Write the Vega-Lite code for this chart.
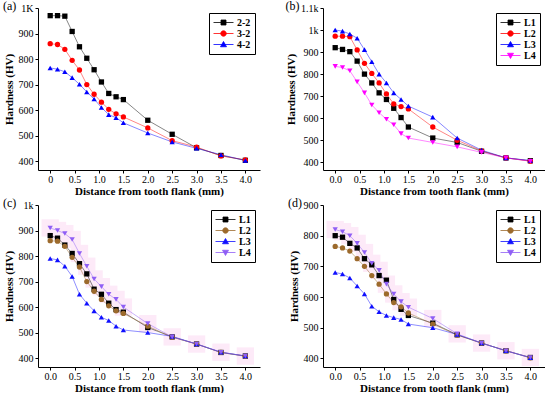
{
  "$schema": "https://vega.github.io/schema/vega-lite/v6.json",
  "padding": {"left": 3, "top": 0, "right": 0, "bottom": 0},
  "background": "white",
  "datasets": {
    "a": [
      {"x": 0, "2-2": 970, "3-2": 860, "4-2": 765},
      {"x": 0.15, "2-2": 970, "3-2": 857, "4-2": 760},
      {"x": 0.3, "2-2": 968, "3-2": 838, "4-2": 750},
      {"x": 0.45, "2-2": 908, "3-2": 795, "4-2": 727},
      {"x": 0.6, "2-2": 848, "3-2": 757, "4-2": 701},
      {"x": 0.75, "2-2": 803, "3-2": 700, "4-2": 671},
      {"x": 0.9, "2-2": 758, "3-2": 662, "4-2": 643},
      {"x": 1.05, "2-2": 710, "3-2": 631, "4-2": 610},
      {"x": 1.2, "2-2": 665, "3-2": 603, "4-2": 582},
      {"x": 1.35, "2-2": 652, "3-2": 585, "4-2": 570},
      {"x": 1.5, "2-2": 641, "3-2": 573, "4-2": 550},
      {"x": 2, "2-2": 560, "3-2": 530, "4-2": 510},
      {"x": 2.5, "2-2": 505, "3-2": 480, "4-2": 475},
      {"x": 3, "2-2": 452, "3-2": 455, "4-2": 450},
      {"x": 3.5, "2-2": 422, "3-2": 420, "4-2": 425},
      {"x": 4, "2-2": 403, "3-2": 405, "4-2": 402}
    ],
    "b": [
      {"x": 0, "L1": 920, "L2": 972, "L3": 1000, "L4": 835},
      {"x": 0.15, "L1": 912, "L2": 972, "L3": 995, "L4": 830},
      {"x": 0.3, "L1": 902, "L2": 970, "L3": 982, "L4": 815},
      {"x": 0.45, "L1": 859, "L2": 910, "L3": 963, "L4": 765},
      {"x": 0.6, "L1": 800, "L2": 849, "L3": 911, "L4": 715},
      {"x": 0.75, "L1": 760, "L2": 803, "L3": 856, "L4": 660},
      {"x": 0.9, "L1": 715, "L2": 760, "L3": 800, "L4": 625},
      {"x": 1.05, "L1": 685, "L2": 710, "L3": 760, "L4": 595},
      {"x": 1.2, "L1": 645, "L2": 665, "L3": 715, "L4": 570},
      {"x": 1.35, "L1": 603, "L2": 653, "L3": 685, "L4": 530},
      {"x": 1.5, "L1": 560, "L2": 642, "L3": 655, "L4": 510},
      {"x": 2, "L1": 510, "L2": 560, "L3": 605, "L4": 490},
      {"x": 2.5, "L1": 490, "L2": 500, "L3": 510, "L4": 470},
      {"x": 3, "L1": 450, "L2": 452, "L3": 455, "L4": 445},
      {"x": 3.5, "L1": 420, "L2": 420, "L3": 420, "L4": 420},
      {"x": 4, "L1": 407, "L2": 405, "L3": 408, "L4": 405}
    ],
    "c": [
      {"x": 0, "L1": 880, "L2": 860, "L3": 790, "L4": 910},
      {"x": 0.15, "L1": 870, "L2": 858, "L3": 785, "L4": 900},
      {"x": 0.3, "L1": 843, "L2": 838, "L3": 760, "L4": 888},
      {"x": 0.45, "L1": 810, "L2": 795, "L3": 720, "L4": 865},
      {"x": 0.6, "L1": 770, "L2": 757, "L3": 650, "L4": 810},
      {"x": 0.75, "L1": 730, "L2": 700, "L3": 615, "L4": 760},
      {"x": 0.9, "L1": 670, "L2": 662, "L3": 585, "L4": 710},
      {"x": 1.05, "L1": 650, "L2": 630, "L3": 560, "L4": 680},
      {"x": 1.2, "L1": 615, "L2": 605, "L3": 547, "L4": 650},
      {"x": 1.35, "L1": 590, "L2": 585, "L3": 525, "L4": 630},
      {"x": 1.5, "L1": 580, "L2": 575, "L3": 510, "L4": 600},
      {"x": 2, "L1": 520, "L2": 525, "L3": 500, "L4": 535},
      {"x": 2.5, "L1": 483, "L2": 482, "L3": 485, "L4": 483},
      {"x": 3, "L1": 455, "L2": 455, "L3": 455, "L4": 455},
      {"x": 3.5, "L1": 422, "L2": 422, "L3": 423, "L4": 423},
      {"x": 4, "L1": 408, "L2": 407, "L3": 408, "L4": 408}
    ],
    "d": [
      {"x": 0, "L1": 800, "L2": 765, "L3": 680, "L4": 820},
      {"x": 0.15, "L1": 795, "L2": 760, "L3": 675, "L4": 813},
      {"x": 0.3, "L1": 775, "L2": 750, "L3": 662, "L4": 800},
      {"x": 0.45, "L1": 760, "L2": 725, "L3": 636, "L4": 775},
      {"x": 0.6, "L1": 725, "L2": 700, "L3": 610, "L4": 745},
      {"x": 0.75, "L1": 705, "L2": 670, "L3": 570, "L4": 710},
      {"x": 0.9, "L1": 670, "L2": 642, "L3": 552, "L4": 687},
      {"x": 1.05, "L1": 655, "L2": 610, "L3": 540, "L4": 642},
      {"x": 1.2, "L1": 592, "L2": 582, "L3": 533, "L4": 610},
      {"x": 1.35, "L1": 560, "L2": 568, "L3": 527, "L4": 585},
      {"x": 1.5, "L1": 540, "L2": 548, "L3": 512, "L4": 567},
      {"x": 2, "L1": 515, "L2": 512, "L3": 500, "L4": 530},
      {"x": 2.5, "L1": 477, "L2": 476, "L3": 478, "L4": 480},
      {"x": 3, "L1": 450, "L2": 450, "L3": 450, "L4": 450},
      {"x": 3.5, "L1": 425, "L2": 425, "L3": 425, "L4": 425},
      {"x": 4, "L1": 403, "L2": 402, "L3": 402, "L4": 403}
    ]
  },
  "columns": 2,
  "spacing": {"row": 1, "column": 25},
  "resolve": {
    "scale": {"color": "independent", "shape": "independent", "stroke": "independent"},
    "legend": {"color": "independent", "shape": "independent", "stroke": "independent"}
  },
  "concat": [
    {
      "width": 222, "height": 162,
      "title": {"text": "(a)"},
      "data": {"name": "a"},
      "transform": [{"fold": ["2-2", "3-2", "4-2"], "as": ["s", "y"]}],
      "encoding": {
        "x": {"field": "x", "type": "quantitative", "scale": {"domain": [-0.25, 4.3], "nice": false, "zero": false},
          "axis": {"values": [0, 0.5, 1, 1.5, 2, 2.5, 3, 3.5, 4], "labelExpr": "datum.value == 0 ? '0' : format(datum.value, '.1f')", "title": "Distance from tooth flank (mm)"}},
        "y": {"field": "y", "type": "quantitative", "scale": {"domain": [365, 1000], "nice": false, "zero": false},
          "axis": {"values": [400, 500, 600, 700, 800, 900, 1000], "labelExpr": "datum.value == 1000 ? '1K' : datum.label", "title": "Hardness (HV)"}}
      },
      "layer": [
        {"mark": {"type": "line", "strokeWidth": 0.8, "opacity": 0.6},
          "encoding": {
            "detail": {"field": "s", "type": "nominal"},
            "stroke": {"condition": [{"test": "datum.s === '2-2'", "value": "#000000"}, {"test": "datum.s === '3-2'", "value": "#ff0000"}], "value": "#0000ff"}}},
        {"mark": {"type": "point", "filled": true, "size": 28, "opacity": 1},
          "encoding": {
            "shape": {"condition": [{"test": "datum.s === '2-2'", "value": "square"}, {"test": "datum.s === '3-2'", "value": "circle"}], "value": "triangle-up"},
            "color": {"condition": [{"test": "datum.s === '2-2'", "value": "#000000"}, {"test": "datum.s === '3-2'", "value": "#ff0000"}], "value": "#0000ff"}}},
        {"mark": {"type": "point", "filled": true, "size": 28, "opacity": 0},
          "encoding": {
            "color": {"field": "s", "type": "nominal", "scale": {"domain": ["2-2", "3-2", "4-2"], "range": ["#000000", "#ff0000", "#0000ff"]}, "legend": {"title": null}},
            "stroke": {"field": "s", "type": "nominal", "scale": {"domain": ["2-2", "3-2", "4-2"], "range": ["#000000", "#ff0000", "#0000ff"]}, "legend": {"title": null}},
            "shape": {"field": "s", "type": "nominal", "scale": {"domain": ["2-2", "3-2", "4-2"], "range": ["M-1,0H3M0.5,-0.5H1.5V0.5H0.5Z", "M-1,0H3M1.55,0A0.55,0.55,0,1,1,0.45,0A0.55,0.55,0,1,1,1.55,0Z", "M-1,0H3M1,-0.6L1.6,0.45H0.4Z"]}, "legend": {"title": null}}}}
      ]
    },
    {
      "width": 222, "height": 162,
      "title": {"text": "(b)"},
      "data": {"name": "b"},
      "transform": [{"fold": ["L1", "L2", "L3", "L4"], "as": ["s", "y"]}],
      "encoding": {
        "x": {"field": "x", "type": "quantitative", "scale": {"domain": [-0.25, 4.3], "nice": false, "zero": false},
          "axis": {"values": [0, 0.5, 1, 1.5, 2, 2.5, 3, 3.5, 4], "format": ".1f", "title": "Distance from tooth flank (mm)"}},
        "y": {"field": "y", "type": "quantitative", "scale": {"domain": [365, 1100], "nice": false, "zero": false},
          "axis": {"values": [400, 500, 600, 700, 800, 900, 1000, 1100], "labelExpr": "datum.value == 1000 ? '1k' : datum.value == 1100 ? '1.1k' : datum.label", "title": "Hardness (HV)"}}
      },
      "layer": [
        {"mark": {"type": "line", "strokeWidth": 0.8, "opacity": 0.6},
          "encoding": {
            "detail": {"field": "s", "type": "nominal"},
            "stroke": {"condition": [{"test": "datum.s === 'L1'", "value": "#000000"}, {"test": "datum.s === 'L2'", "value": "#ff0000"}, {"test": "datum.s === 'L3'", "value": "#0000ff"}], "value": "#ff00ff"}}},
        {"mark": {"type": "point", "filled": true, "size": 28, "opacity": 1},
          "encoding": {
            "shape": {"condition": [{"test": "datum.s === 'L1'", "value": "square"}, {"test": "datum.s === 'L2'", "value": "circle"}, {"test": "datum.s === 'L3'", "value": "triangle-up"}], "value": "triangle-down"},
            "color": {"condition": [{"test": "datum.s === 'L1'", "value": "#000000"}, {"test": "datum.s === 'L2'", "value": "#ff0000"}, {"test": "datum.s === 'L3'", "value": "#0000ff"}], "value": "#ff00ff"}}},
        {"mark": {"type": "point", "filled": true, "size": 28, "opacity": 0},
          "encoding": {
            "color": {"field": "s", "type": "nominal", "scale": {"domain": ["L1", "L2", "L3", "L4"], "range": ["#000000", "#ff0000", "#0000ff", "#ff00ff"]}, "legend": {"title": null}},
            "stroke": {"field": "s", "type": "nominal", "scale": {"domain": ["L1", "L2", "L3", "L4"], "range": ["#000000", "#ff0000", "#0000ff", "#ff00ff"]}, "legend": {"title": null}},
            "shape": {"field": "s", "type": "nominal", "scale": {"domain": ["L1", "L2", "L3", "L4"], "range": ["M-1,0H3M0.5,-0.5H1.5V0.5H0.5Z", "M-1,0H3M1.55,0A0.55,0.55,0,1,1,0.45,0A0.55,0.55,0,1,1,1.55,0Z", "M-1,0H3M1,-0.6L1.6,0.45H0.4Z", "M-1,0H3M1,0.6L1.6,-0.45H0.4Z"]}, "legend": {"title": null}}}}
      ]
    },
    {
      "width": 222, "height": 162,
      "title": {"text": "(c)"},
      "data": {"name": "c"},
      "transform": [{"fold": ["L1", "L2", "L3", "L4"], "as": ["s", "y"]}],
      "encoding": {
        "x": {"field": "x", "type": "quantitative", "scale": {"domain": [-0.25, 4.3], "nice": false, "zero": false},
          "axis": {"values": [0, 0.5, 1, 1.5, 2, 2.5, 3, 3.5, 4], "format": ".1f", "title": "Distance from tooth flank (mm)"}},
        "y": {"field": "y", "type": "quantitative", "scale": {"domain": [365, 1000], "nice": false, "zero": false},
          "axis": {"values": [400, 500, 600, 700, 800, 900, 1000], "labelExpr": "datum.value == 1000 ? '1k' : datum.label", "title": "Hardness (HV)"}}
      },
      "layer": [
        {"transform": [{"filter": "datum.s === 'L4'"}], "mark": {"type": "square", "size": 300, "color": "#fdeaf8", "opacity": 1}},
        {"mark": {"type": "line", "strokeWidth": 0.8, "opacity": 0.6},
          "encoding": {
            "detail": {"field": "s", "type": "nominal"},
            "stroke": {"condition": [{"test": "datum.s === 'L1'", "value": "#000000"}, {"test": "datum.s === 'L2'", "value": "#9c6a2c"}, {"test": "datum.s === 'L3'", "value": "#1010ff"}], "value": "#8f5ef5"}}},
        {"mark": {"type": "point", "filled": true, "size": 28, "opacity": 1},
          "encoding": {
            "shape": {"condition": [{"test": "datum.s === 'L1'", "value": "square"}, {"test": "datum.s === 'L2'", "value": "circle"}, {"test": "datum.s === 'L3'", "value": "triangle-up"}], "value": "triangle-down"},
            "color": {"condition": [{"test": "datum.s === 'L1'", "value": "#000000"}, {"test": "datum.s === 'L2'", "value": "#9c6a2c"}, {"test": "datum.s === 'L3'", "value": "#1010ff"}], "value": "#8f5ef5"}}},
        {"mark": {"type": "point", "filled": true, "size": 28, "opacity": 0},
          "encoding": {
            "color": {"field": "s", "type": "nominal", "scale": {"domain": ["L1", "L2", "L3", "L4"], "range": ["#000000", "#9c6a2c", "#1010ff", "#8f5ef5"]}, "legend": {"title": null}},
            "stroke": {"field": "s", "type": "nominal", "scale": {"domain": ["L1", "L2", "L3", "L4"], "range": ["#000000", "#9c6a2c", "#1010ff", "#8f5ef5"]}, "legend": {"title": null}},
            "shape": {"field": "s", "type": "nominal", "scale": {"domain": ["L1", "L2", "L3", "L4"], "range": ["M-1,0H3M0.5,-0.5H1.5V0.5H0.5Z", "M-1,0H3M1.55,0A0.55,0.55,0,1,1,0.45,0A0.55,0.55,0,1,1,1.55,0Z", "M-1,0H3M1,-0.6L1.6,0.45H0.4Z", "M-1,0H3M1,0.6L1.6,-0.45H0.4Z"]}, "legend": {"title": null}}}}
      ]
    },
    {
      "width": 222, "height": 162,
      "title": {"text": "(d)"},
      "data": {"name": "d"},
      "transform": [{"fold": ["L1", "L2", "L3", "L4"], "as": ["s", "y"]}],
      "encoding": {
        "x": {"field": "x", "type": "quantitative", "scale": {"domain": [-0.25, 4.3], "nice": false, "zero": false},
          "axis": {"values": [0, 0.5, 1, 1.5, 2, 2.5, 3, 3.5, 4], "format": ".1f", "title": "Distance from tooth flank (mm)"}},
        "y": {"field": "y", "type": "quantitative", "scale": {"domain": [372, 900], "nice": false, "zero": false},
          "axis": {"values": [400, 500, 600, 700, 800, 900], "title": "Hardness (HV)"}}
      },
      "layer": [
        {"transform": [{"filter": "datum.s === 'L4'"}], "mark": {"type": "square", "size": 300, "color": "#fdeaf8", "opacity": 1}},
        {"mark": {"type": "line", "strokeWidth": 0.8, "opacity": 0.6},
          "encoding": {
            "detail": {"field": "s", "type": "nominal"},
            "stroke": {"condition": [{"test": "datum.s === 'L1'", "value": "#000000"}, {"test": "datum.s === 'L2'", "value": "#9c6a2c"}, {"test": "datum.s === 'L3'", "value": "#1010ff"}], "value": "#8f5ef5"}}},
        {"mark": {"type": "point", "filled": true, "size": 28, "opacity": 1},
          "encoding": {
            "shape": {"condition": [{"test": "datum.s === 'L1'", "value": "square"}, {"test": "datum.s === 'L2'", "value": "circle"}, {"test": "datum.s === 'L3'", "value": "triangle-up"}], "value": "triangle-down"},
            "color": {"condition": [{"test": "datum.s === 'L1'", "value": "#000000"}, {"test": "datum.s === 'L2'", "value": "#9c6a2c"}, {"test": "datum.s === 'L3'", "value": "#1010ff"}], "value": "#8f5ef5"}}},
        {"mark": {"type": "point", "filled": true, "size": 28, "opacity": 0},
          "encoding": {
            "color": {"field": "s", "type": "nominal", "scale": {"domain": ["L1", "L2", "L3", "L4"], "range": ["#000000", "#9c6a2c", "#1010ff", "#8f5ef5"]}, "legend": {"title": null}},
            "stroke": {"field": "s", "type": "nominal", "scale": {"domain": ["L1", "L2", "L3", "L4"], "range": ["#000000", "#9c6a2c", "#1010ff", "#8f5ef5"]}, "legend": {"title": null}},
            "shape": {"field": "s", "type": "nominal", "scale": {"domain": ["L1", "L2", "L3", "L4"], "range": ["M-1,0H3M0.5,-0.5H1.5V0.5H0.5Z", "M-1,0H3M1.55,0A0.55,0.55,0,1,1,0.45,0A0.55,0.55,0,1,1,1.55,0Z", "M-1,0H3M1,-0.6L1.6,0.45H0.4Z", "M-1,0H3M1,0.6L1.6,-0.45H0.4Z"]}, "legend": {"title": null}}}}
      ]
    }
  ],
  "config": {
    "view": {"stroke": null},
    "font": "Liberation Serif",
    "axis": {
      "grid": false, "domainColor": "black", "tickColor": "black", "labelColor": "black", "titleColor": "black",
      "labelFont": "Liberation Serif", "labelFontSize": 10, "titleFont": "Liberation Serif", "titleFontSize": 11,
      "titleFontWeight": "bold", "tickSize": 3, "labelPadding": 2, "domainWidth": 1, "tickWidth": 1
    },
    "axisX": {"titlePadding": 1, "labelFlush": false, "labelAngle": 0, "labelPadding": 1},
    "axisY": {"titlePadding": 4},
    "title": {"anchor": "start", "frame": "bounds", "font": "Liberation Serif", "fontSize": 12, "fontWeight": "normal", "color": "black", "offset": 0, "dy": 14},
    "legend": {
      "orient": "top-right", "strokeColor": "black", "fillColor": "white", "padding": 4, "offset": 5,
      "labelFont": "Liberation Serif", "labelFontWeight": "bold", "labelFontSize": 10, "labelColor": "black",
      "symbolSize": 100, "symbolOpacity": 1, "symbolStrokeWidth": 0.8, "rowPadding": 0, "labelOffset": 13
    }
  }
}
